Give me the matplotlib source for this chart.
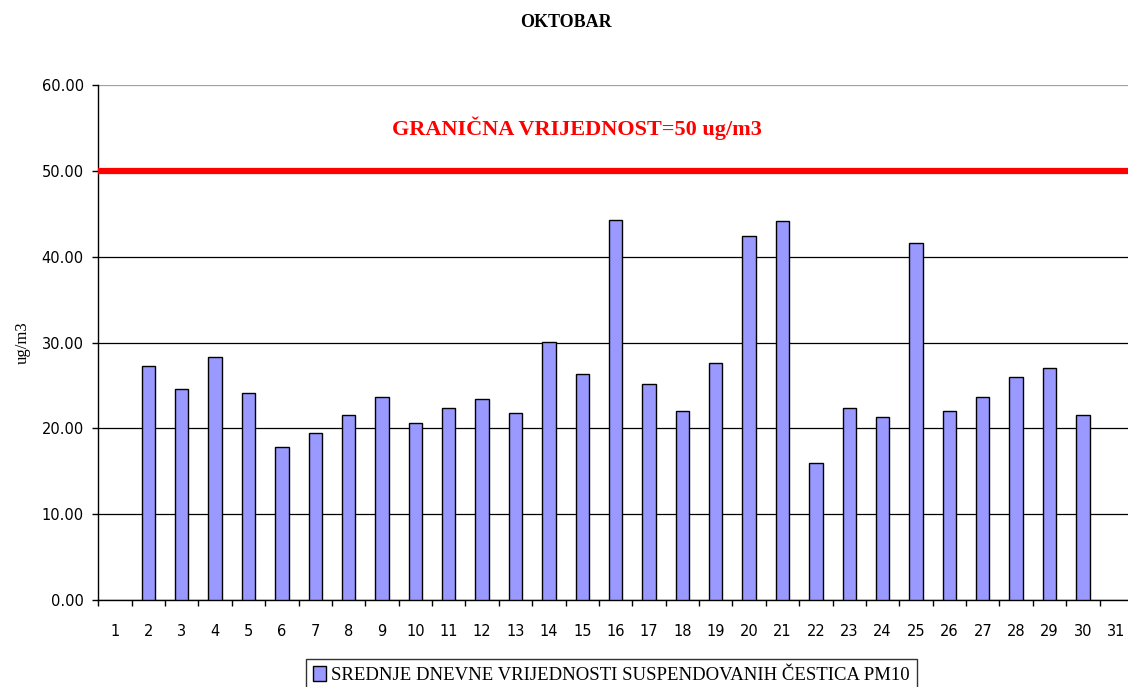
import numpy as np
import matplotlib
matplotlib.use('Agg')
import matplotlib.pyplot as plt
import matplotlib.transforms as mtransforms

days = [str(d) for d in range(1, 32)]
pm10 = [np.nan, 27.3, 24.6, 28.3, 24.1, 17.8, 19.5, 21.5, 23.6, 20.6,
        22.4, 23.4, 21.8, 30.1, 26.3, 44.3, 25.2, 22.0, 27.6, 42.4,
        44.1, 16.0, 22.4, 21.3, 41.6, 22.0, 23.7, 26.0, 27.0, 21.5, np.nan]
limit = 50
yticks = [0, 10, 20, 30, 40, 50, 60]

serif = 'Liberation Serif'
sans = 'DejaVu Sans'

fig = plt.figure(figsize=(11.28, 6.87), dpi=100)
ax = fig.add_axes([0.0871, 0.1266, 0.9173, 0.7497])

x = np.arange(len(days))
ax.bar(x, pm10, width=0.4, color='#9999FF', edgecolor='black', linewidth=1.0,
       label='SREDNJE DNEVNE VRIJEDNOSTI SUSPENDOVANIH ČESTICA PM10', zorder=3)

ax.set_xlim(-0.5, len(days) - 0.5)
ax.set_ylim(0, 60)

# grid lines
ax.set_yticks(yticks)
ax.set_yticklabels(['%.2f' % v for v in yticks], fontfamily=sans, fontsize=10.5)
ax.yaxis.grid(True, color='black', linewidth=0.9, zorder=1)
ax.set_axisbelow(True)
ax.get_ygridlines()[-1].set_color('#a0a0a0')

# x ticks between the categories, labels in the middle
ax.set_xticks(np.arange(-0.5, len(days), 1.0))
ax.set_xticklabels([])
ax.set_xticks(x, minor=True)
ax.set_xticklabels(days, minor=True, fontfamily=sans, fontsize=10.5)
ax.tick_params(axis='x', which='major', direction='out', length=4.5, width=1)
ax.tick_params(axis='x', which='minor', length=0, pad=17)
ax.tick_params(axis='y', direction='out', length=4.5, width=1, pad=6)

for s in ['top', 'right']:
    ax.spines[s].set_visible(False)
ax.spines['left'].set_linewidth(1)
ax.spines['bottom'].set_linewidth(1)

# limit line
ax.axhline(limit, color='#FF0000', linewidth=4.5, zorder=4)
trans = mtransforms.blended_transform_factory(ax.transAxes, ax.transData)
ax.text(0.4627, 55.0, 'GRANIČNA VRIJEDNOST=50 ug/m3', transform=trans,
        ha='center', va='center', color='#FF0000', fontfamily=serif,
        fontweight='bold', fontsize=16)

ax.set_ylabel('ug/m3', fontfamily=serif, fontsize=12, labelpad=8)
fig.text(0.502, 0.967, 'OKTOBAR', ha='center', va='center', fontfamily=serif,
         fontweight='bold', fontsize=13)

leg = fig.legend(loc='upper center', bbox_to_anchor=(0.542, 0.0408),
                 frameon=True, fancybox=False, edgecolor='black',
                 prop={'family': serif, 'size': 13.5},
                 handlelength=0.7, handleheight=0.9, handletextpad=0.3,
                 borderpad=0.35, borderaxespad=0)
leg.get_frame().set_linewidth(1)

fig.savefig('out.png', dpi=100)
